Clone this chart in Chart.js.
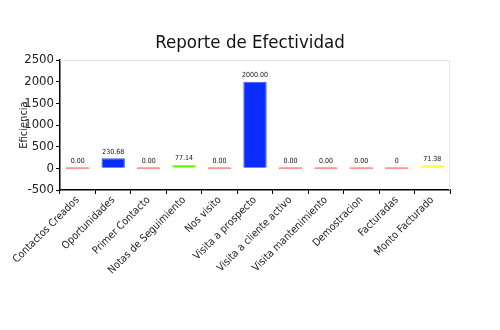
<!DOCTYPE html>
<html>
<head>
<meta charset="utf-8">
<script src="https://cdn.jsdelivr.net/npm/chart.js@4/dist/chart.umd.min.js"></script>
<style>
  html, body { margin: 0; padding: 0; background: #fff; }
  #wrap { width: 500px; height: 330px; }
</style>
</head>
<body>
<div id="wrap"><canvas id="c" width="500" height="330"></canvas></div>
<script>
const categories = [
  'Contactos Creados', 'Oportunidades', 'Primer Contacto', 'Notas de Seguimiento',
  'Nos visito', 'Visita a prospecto', 'Visita a cliente activo', 'Visita mantenimiento',
  'Demostracion', 'Facturadas', 'Monto Facturado'
];
const values = [0, 230.68, 0, 77.14, 0, 2000, 0, 0, 0, 0, 71.38];
const valueLabels = ['0.00', '230.68', '0.00', '77.14', '0.00', '2000.00', '0.00', '0.00', '0.00', '0', '71.38'];
const barColors = ['#ff6a6a', '#0a2cff', '#ff6a6a', '#66ff00', '#ff6a6a', '#0a2cff',
                   '#ff6a6a', '#ff6a6a', '#ff6a6a', '#ff6a6a', '#ffff00'];
const yTicks = { min: -500, max: 2500, step: 250 };

const FONT = "'Liberation Sans Narrow', 'DejaVu Sans Condensed', sans-serif";

// light frame on the top and right edges of the plot area
const framePlugin = {
  id: 'frame',
  beforeDatasetsDraw(chart) {
    const { ctx, chartArea: a } = chart;
    ctx.save();
    ctx.strokeStyle = '#e4e4e4';
    ctx.lineWidth = 1;
    ctx.beginPath();
    ctx.moveTo(a.left, a.top + 0.5);
    ctx.lineTo(a.right - 0.5, a.top + 0.5);
    ctx.lineTo(a.right - 0.5, a.bottom);
    ctx.stroke();
    ctx.restore();
  }
};

// value text above each bar
const valueLabelPlugin = {
  id: 'valueLabels',
  afterDatasetsDraw(chart) {
    const { ctx } = chart;
    const meta = chart.getDatasetMeta(0);
    ctx.save();
    ctx.font = "7px " + FONT;
    ctx.fillStyle = '#111';
    ctx.textAlign = 'center';
    ctx.textBaseline = 'bottom';
    meta.data.forEach((bar, i) => {
      const top = Math.min(bar.y, bar.base);
      ctx.fillText(valueLabels[i], bar.x, top - 3);
    });
    ctx.restore();
  }
};

new Chart(document.getElementById('c'), {
  type: 'bar',
  data: {
    labels: categories,
    datasets: [{
      data: values,
      backgroundColor: barColors,
      borderColor: barColors.map(c => c + 'cc'),
      borderWidth: 1,
      minBarLength: 2,
      barPercentage: 0.66,
      categoryPercentage: 1.0
    }]
  },
  options: {
    responsive: false,
    animation: false,
    layout: { padding: 0 },
    plugins: {
      legend: { display: false },
      tooltip: { enabled: false },
      title: {
        display: true,
        text: 'Reporte de Efectividad',
        color: '#111',
        font: { family: FONT, size: 18.5, weight: 'normal' },
        padding: { top: 32.5, bottom: 5.3 }
      }
    },
    scales: {
      x: {
        grid: { display: true, drawOnChartArea: false, color: '#000', tickColor: '#000', tickLength: 4 },
        border: { color: '#000', width: 1.5 },
        ticks: {
          color: '#222',
          font: { family: FONT, size: 10.5 },
          minRotation: 45, maxRotation: 45,
          padding: 0
        },
        afterFit(scale) { scale.height = 140; }
      },
      y: {
        min: yTicks.min,
        max: yTicks.max,
        grid: {
          display: true,
          drawOnChartArea: false,
          tickLength: 4,
          tickColor: (c) => (c.tick && c.tick.value % 500 !== 0) ? '#ff3030' : '#000'
        },
        border: { color: '#000', width: 1.5 },
        ticks: {
          stepSize: yTicks.step,
          color: '#222',
          font: { family: FONT, size: 13 },
          padding: 2,
          callback: (v) => (v % 500 === 0 ? String(v) : '')
        },
        title: {
          display: true,
          text: 'Eficiencia',
          color: '#222',
          font: { family: FONT, size: 11 },
          padding: { top: 18, bottom: 0 }
        },
        afterFit(scale) { scale.width = 60; }
      },
      // empty right-hand margin so the plot ends at the same place while the title stays centred
      yRight: {
        position: 'right',
        display: true,
        grid: { display: false },
        border: { display: false },
        ticks: { display: false },
        afterFit(scale) { scale.width = 50; }
      }
    }
  },
  plugins: [framePlugin, valueLabelPlugin]
});
</script>
</body>
</html>
